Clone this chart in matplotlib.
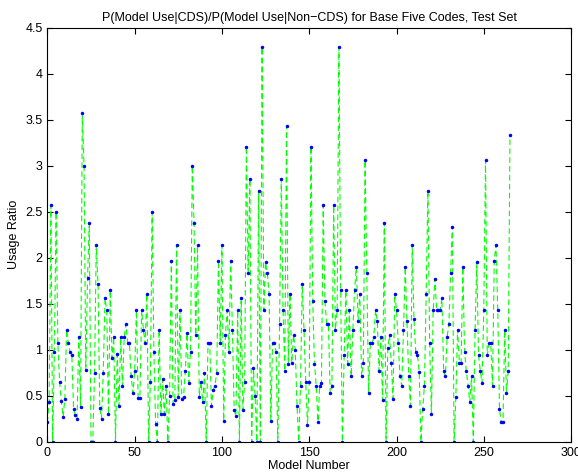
import numpy as np
import matplotlib
matplotlib.use('Agg')
import matplotlib.pyplot as plt

plt.rcParams['font.family'] = ['Liberation Sans', 'DejaVu Sans']

# usage ratio for each model (index 0..265)
ratio = [
    0.21, 0.43, 2.57, 0.00, 0.98, 2.50, 1.07, 0.65, 0.44, 0.27,
    0.47, 1.22, 1.07, 0.98, 0.94, 0.36, 0.29, 0.25, 1.14, 0.38,
    3.57, 3.00, 0.78, 1.78, 2.38, 0.00, 0.00, 0.75, 2.14, 1.72,
    0.37, 0.25, 0.75, 1.56, 1.43, 0.30, 1.65, 0.91, 1.14, 0.00,
    0.95, 0.39, 1.14, 0.61, 1.14, 1.28, 1.07, 1.07, 0.71, 0.53,
    0.77, 1.43, 0.48, 0.48, 1.43, 1.22, 1.07, 1.61, 0.00, 0.65,
    2.50, 0.98, 0.19, 0.00, 1.22, 0.30, 0.68, 0.30, 0.61, 0.00,
    0.50, 1.97, 0.41, 0.45, 2.14, 0.49, 1.43, 0.46, 0.49, 0.77,
    1.18, 0.64, 0.98, 3.00, 2.38, 1.16, 2.14, 0.49, 0.65, 0.43,
    0.75, 0.00, 1.07, 1.07, 0.39, 0.56, 0.61, 0.75, 1.97, 1.07,
    2.14, 0.23, 1.16, 1.43, 0.98, 1.97, 1.22, 0.35, 0.28, 1.43,
    0.00, 1.56, 0.35, 0.65, 3.21, 1.83, 2.86, 0.00, 0.80, 0.50,
    0.00, 2.73, 0.00, 4.29, 1.43, 1.95, 1.83, 1.61, 0.23, 1.07,
    1.07, 0.98, 0.00, 1.28, 2.86, 1.43, 0.77, 3.43, 0.85, 1.61,
    0.86, 1.16, 1.00, 0.39, 0.00, 0.61, 1.72, 1.22, 0.65, 0.18,
    0.65, 3.21, 1.53, 0.85, 0.61, 0.22, 0.61, 0.64, 2.57, 1.53,
    1.28, 1.28, 0.53, 0.61, 2.57, 1.22, 1.43, 4.29, 1.65, 0.00,
    0.94, 1.65, 0.85, 1.43, 0.71, 1.22, 1.65, 1.90, 1.31, 1.61,
    0.71, 0.86, 3.06, 1.83, 0.53, 1.07, 1.07, 1.14, 1.43, 1.31,
    0.77, 1.14, 0.45, 2.38, 0.00, 1.02, 1.16, 0.86, 0.47, 1.61,
    1.43, 1.07, 0.71, 0.61, 1.22, 1.90, 1.31, 0.71, 0.39, 2.14,
    1.33, 0.98, 0.94, 0.76, 0.00, 0.36, 0.61, 1.61, 2.73, 1.07,
    0.30, 1.43, 1.77, 1.43, 1.43, 1.43, 1.56, 0.77, 0.71, 1.14,
    1.28, 1.84, 2.34, 0.00, 0.49, 1.22, 0.86, 0.86, 1.90, 0.98,
    0.77, 0.61, 0.43, 0.71, 0.00, 1.22, 1.95, 0.94, 0.77, 0.64,
    1.43, 3.06, 0.94, 1.07, 1.07, 0.61, 1.97, 2.14, 1.43, 0.36,
    0.21, 0.21, 1.22, 0.53, 0.77, 3.34,
]
model = np.arange(len(ratio))

fig = plt.figure(figsize=(5.78, 4.72), dpi=100)
ax = fig.add_axes([0.082, 0.064, 0.906, 0.877])

ax.plot(model, ratio, '--', color=(0, 1, 0), linewidth=0.8, dashes=(5, 3))
ax.plot(model, ratio, '.', color='blue', markersize=3)

ax.set_xlim(0, 300)
ax.set_ylim(0, 4.5)
ax.set_xticks(np.arange(0, 301, 50))
ax.set_yticks(np.arange(0, 4.51, 0.5))
ax.set_yticklabels(['0', '0.5', '1', '1.5', '2', '2.5', '3', '3.5', '4', '4.5'])
ax.tick_params(direction='in', top=True, right=True, labelsize=9, length=4)

ax.set_xlabel('Model Number', fontsize=9, labelpad=1)
ax.set_ylabel('Usage Ratio', fontsize=9, labelpad=4)
ax.set_title('P(Model Use|CDS)/P(Model Use|Non\u2212CDS) for Base Five Codes, Test Set',
             fontsize=9, pad=5)

plt.savefig('out.png')
plt.close()
